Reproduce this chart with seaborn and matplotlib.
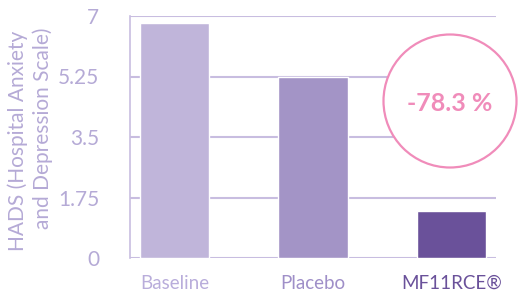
import matplotlib
matplotlib.use("Agg")
import matplotlib.pyplot as plt
from matplotlib.patches import Circle
import seaborn as sns
import pandas as pd

groups = ["Baseline", "Placebo", "MF11RCE®"]
scores = [6.8, 5.24, 1.36]
bar_colors = ["#c0b5da", "#a394c6", "#6a519a"]
label_colors = ["#b9addb", "#9f8fc8", "#6a519a"]
yticks = [0, 1.75, 3.5, 5.25, 7]
ytick_labels = ["0", "1.75", "3.5", "5.25", "7"]
change_text = "-78.3 %"

grid_col = "#c8bde0"
tick_col = "#b5aad6"
pink = "#f08cba"

sns.set_style("white")
plt.rcParams["font.family"] = ["Lato", "DejaVu Sans"]

df = pd.DataFrame({"group": groups, "score": scores})

fig = plt.figure(figsize=(5.19, 2.94), dpi=100)
ax = fig.add_axes([130 / 519, 36 / 294, 366 / 519, 242 / 294])

sns.barplot(data=df, x="group", y="score", hue="group", palette=bar_colors,
            width=0.5, legend=False, ax=ax, zorder=3, saturation=1)

ax.set_xlim(-0.32, 2.32)
ax.set_ylim(0, 7)
ax.set_yticks(yticks)
ax.set_yticklabels(ytick_labels)
for y in yticks:
    ax.axhline(y, color=grid_col, lw=1.5, zorder=1)

for s in ["top", "right", "bottom"]:
    ax.spines[s].set_visible(False)
ax.spines["left"].set_color(grid_col)
ax.spines["left"].set_linewidth(1.2)

ax.tick_params(axis="y", length=0, pad=22, labelsize=15, labelcolor=tick_col)
ax.tick_params(axis="x", length=0, pad=12, labelsize=13.5)
for lab, c in zip(ax.get_xticklabels(), label_colors):
    lab.set_color(c)
ax.set_xlabel("")
ax.set_ylabel("")

fig.text(18 / 519, 1 - 141 / 294, "HADS (Hospital Anxiety", rotation=90,
         ha="center", va="center", fontsize=15, color=tick_col)
fig.text(43 / 519, 1 - 128 / 294, "and Depression Scale)", rotation=90,
         ha="center", va="center", fontsize=15, color=tick_col)

circ = Circle((4.50, 2.94 - 1.01), 0.665, transform=fig.dpi_scale_trans,
              fill=True, facecolor="white", edgecolor=pink, lw=1.6, zorder=10)
fig.add_artist(circ)
fig.text(450 / 519, 1 - 103 / 294, change_text, ha="center", va="center",
         fontsize=18, color=pink, fontweight="bold", zorder=11)

fig.savefig("out.png", dpi=100)
